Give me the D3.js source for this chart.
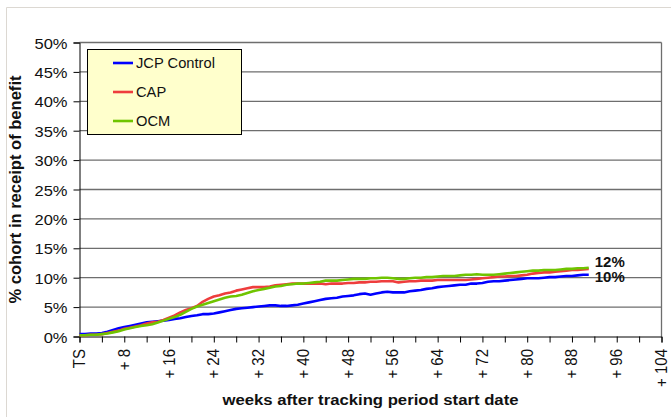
<!DOCTYPE html>
<html><head><meta charset="utf-8">
<script src="https://cdn.jsdelivr.net/npm/d3@7"></script>
<style>
html,body{margin:0;padding:0;background:#fff;}
svg{display:block;font-family:Arial,"Liberation Sans",sans-serif;}
</style></head>
<body>
<svg id="chart" width="671" height="417"></svg>
<script>
const seriesNames = ["JCP Control", "CAP", "OCM"];
const seriesColors = ["#0000ff", "#ee3d3d", "#6fc400"];
const weeks = d3.range(0, 92);
const jcpControl = [0.4,0.4,0.5,0.5,0.6,0.8,1.1,1.4,1.6,1.8,2.0,2.2,2.4,2.5,2.6,2.7,2.8,3.0,3.1,3.3,3.5,3.6,3.8,3.8,3.9,4.1,4.3,4.5,4.7,4.8,4.9,5.0,5.1,5.2,5.3,5.3,5.2,5.2,5.3,5.4,5.6,5.8,6.0,6.2,6.4,6.5,6.6,6.8,6.9,7.0,7.2,7.3,7.1,7.3,7.5,7.6,7.5,7.5,7.5,7.7,7.8,7.9,8.1,8.2,8.4,8.5,8.6,8.7,8.8,8.8,9.0,9.0,9.1,9.3,9.4,9.4,9.5,9.6,9.7,9.8,9.9,9.9,9.9,10.0,10.1,10.1,10.2,10.3,10.3,10.4,10.5,10.5];
const cap = [0.2,0.2,0.3,0.3,0.4,0.6,0.8,1.0,1.3,1.5,1.7,1.9,2.2,2.4,2.5,2.8,3.2,3.6,4.1,4.5,4.8,5.2,5.9,6.4,6.8,7.0,7.3,7.5,7.8,8.0,8.2,8.4,8.4,8.4,8.5,8.7,8.8,8.9,9.0,9.0,9.0,9.0,9.0,9.0,8.9,9.0,9.0,9.0,9.1,9.1,9.2,9.2,9.3,9.3,9.4,9.4,9.4,9.2,9.3,9.4,9.4,9.5,9.5,9.5,9.6,9.6,9.6,9.6,9.6,9.6,9.7,9.8,9.9,10.0,10.1,10.2,10.2,10.3,10.3,10.4,10.5,10.7,10.8,10.9,10.9,11.0,11.1,11.2,11.3,11.3,11.4,11.5];
const ocm = [0.2,0.2,0.3,0.3,0.4,0.5,0.7,0.9,1.2,1.4,1.6,1.8,1.9,2.1,2.4,2.7,3.0,3.3,3.7,4.2,4.7,5.1,5.4,5.7,6.0,6.3,6.6,6.8,6.9,7.1,7.4,7.7,7.9,8.1,8.3,8.5,8.6,8.8,8.9,9.0,9.0,9.1,9.2,9.3,9.5,9.5,9.5,9.6,9.7,9.8,9.8,9.8,9.9,9.9,10.0,10.0,9.9,9.8,9.8,9.9,10.0,10.0,10.1,10.1,10.2,10.3,10.3,10.3,10.4,10.5,10.5,10.6,10.5,10.5,10.5,10.6,10.7,10.8,10.9,11.0,11.1,11.2,11.2,11.3,11.3,11.3,11.4,11.5,11.5,11.6,11.6,11.7];
const yTicks = [0,5,10,15,20,25,30,35,40,45,50];
const xMinorTicks = d3.range(0, 105, 4);
const xLabelWeeks = [0,8,16,24,32,40,48,56,64,72,80,88,96,104];
const xTickLabels = ["TS","+ 8","+ 16","+ 24","+ 32","+ 40","+ 48","+ 56","+ 64","+ 72","+ 80","+ 88","+ 96","+ 104"];
const endLabels = [{text:"12%", value:11.7}, {text:"10%", value:10.5}];
const yTitle = "% cohort in receipt of benefit";
const xTitle = "weeks after tracking period start date";

const svg = d3.select("#chart");
const L = 79.5, R = 661.5, T = 42.5, B = 336.5;
const x = d3.scaleLinear().domain([0,104]).range([L,R]);
const y = d3.scaleLinear().domain([0,50]).range([B,T]);
const gridColor = "#6e6e6e";

// outer chart border (light)
svg.append("path").attr("d","M6.5,417 V7.5 H671").attr("fill","none").style("stroke","#dcd8d2").style("stroke-width","1px");

// plot area background
svg.append("rect").attr("x",L).attr("y",T).attr("width",R-L).attr("height",B-T).style("fill","#ffffff");

// gridlines (including top border)
const gridG = svg.append("g");
gridG.selectAll("line").data(yTicks.filter(v=>v>0)).join("line")
  .attr("x1",L).attr("x2",R)
  .attr("y1",d=>y(d)).attr("y2",d=>y(d))
  .style("stroke",gridColor).style("stroke-width","1.3px");
// right border
gridG.append("line").attr("x1",R).attr("x2",R).attr("y1",T).attr("y2",B)
  .style("stroke",gridColor).style("stroke-width","1.3px");

// y axis
const yAxis = d3.axisLeft(y).tickValues(yTicks).tickSize(6).tickPadding(6).tickFormat(d=>d+"%");
const gy = svg.append("g").attr("transform",`translate(${L},0)`).call(yAxis);
gy.select(".domain").attr("stroke","#000");
gy.selectAll(".tick line").attr("stroke","#000");
gy.selectAll(".tick text").attr("font-size",15).attr("fill","#111").attr("font-family","Arial, 'Liberation Sans', sans-serif")
  .attr("x",null).attr("dy",null)
  .attr("transform","translate(-12,5.5) scale(1.1,1)");

// x axis
const xAxis = d3.axisBottom(x).tickValues(xMinorTicks).tickSize(6).tickFormat("");
const gx = svg.append("g").attr("transform",`translate(0,${B})`).call(xAxis);
gx.select(".domain").attr("stroke","#000");
gx.selectAll(".tick line").attr("stroke","#000");

svg.append("g").selectAll("text").data(xLabelWeeks).join("text")
  .attr("transform",d=>`translate(${x(d)+5.5},349) scale(1.12,1) rotate(-90)`)
  .attr("text-anchor","end")
  .attr("font-size",15).attr("fill","#111")
  .text((d,i)=>xTickLabels[i]);

// lines
const data = [jcpControl, cap, ocm];
const line = d3.line().x((d,i)=>x(weeks[i])).y(d=>y(d));
svg.append("g").selectAll("path").data([0,1,2]).join("path")
  .attr("d",i=>line(data[i])).attr("fill","none")
  .attr("stroke",i=>seriesColors[i]).attr("stroke-width",2.6).attr("stroke-linejoin","round");

// end labels
svg.append("g").selectAll("text").data(endLabels).join("text")
  .attr("x",x(weeks[weeks.length-1])+6).attr("y",(d,i)=> i===0 ? y(d.value)-1 : y(d.value)+7)
  .attr("font-size",15).attr("font-weight","bold").attr("fill","#111")
  .text(d=>d.text);

// legend
const lg = svg.append("g");
lg.append("rect").attr("x",87.5).attr("y",49.5).attr("width",154).attr("height",85)
  .attr("fill","#ffffcc").attr("stroke","#000").attr("stroke-width",1);
seriesNames.forEach((n,i)=>{
  const yy = 63 + i*29;
  lg.append("line").attr("x1",113).attr("x2",133).attr("y1",yy).attr("y2",yy)
    .attr("stroke",seriesColors[i]).attr("stroke-width",2.6);
  lg.append("text").attr("transform",`translate(136,${yy+5}) scale(1.05,1)`)
    .attr("font-size",14).attr("fill","#111").text(n);
});

// axis titles
svg.append("text").attr("transform",`translate(21,${(T+B)/2}) rotate(-90)`)
  .attr("text-anchor","middle").attr("font-size",16).attr("font-weight","bold").attr("fill","#111")
  .attr("textLength",228).attr("lengthAdjust","spacingAndGlyphs")
  .text(yTitle);
svg.append("text").attr("x",(L+R)/2).attr("y",405)
  .attr("text-anchor","middle").attr("font-size",14.5).attr("font-weight","bold").attr("fill","#111")
  .attr("textLength",296).attr("lengthAdjust","spacingAndGlyphs")
  .text(xTitle);
</script>
</body></html>
